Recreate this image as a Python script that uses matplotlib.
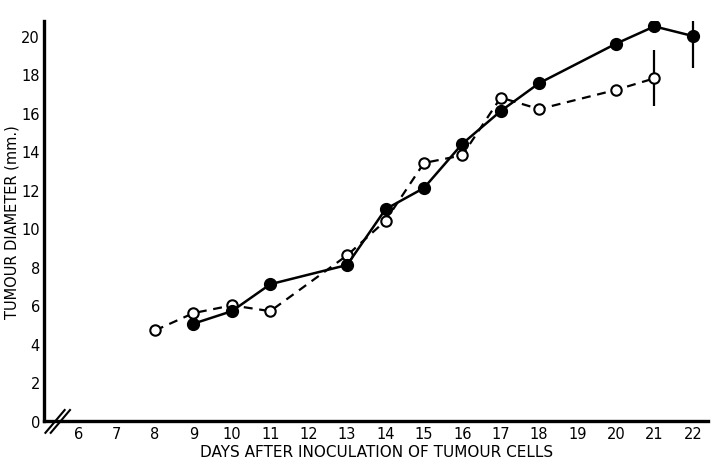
import matplotlib
matplotlib.use("Agg")
import matplotlib.pyplot as plt

plt.rcParams['font.family'] = ['DejaVu Sans']

# filled circles (solid line)
days_a = [9, 10, 11, 13, 14, 15, 16, 17, 18, 20, 21, 22]
diam_a = [5.05, 5.7, 7.1, 8.1, 11.0, 12.1, 14.4, 16.1, 17.55, 19.6, 20.5, 20.0]
err_day_a, err_a = 22, 1.65

# open circles (dashed line)
days_b = [8, 9, 10, 11, 13, 14, 15, 16, 17, 18, 20, 21]
diam_b = [4.7, 5.6, 6.0, 5.7, 8.6, 10.4, 13.4, 13.8, 16.8, 16.2, 17.2, 17.8]
err_day_b, err_b = 21, 1.45

xticks = list(range(6, 23))
yticks = list(range(0, 21, 2))

fig = plt.figure(figsize=(7.11, 4.60), dpi=100)
ax = fig.add_axes([0.062, 0.083, 0.934, 0.87])

ax.plot(days_b, diam_b, color='black', lw=1.6, ls=(0, (4, 3)),
        marker='o', ms=7.5, mfc='white', mec='black', mew=1.5, zorder=3)
ax.plot(days_a, diam_a, color='black', lw=1.8, ls='-',
        marker='o', ms=8.5, mfc='black', mec='black', zorder=4)

ax.errorbar([err_day_a], [diam_a[days_a.index(err_day_a)]], yerr=[err_a],
            fmt='none', ecolor='black', elinewidth=1.6, capsize=0, zorder=2)
ax.errorbar([err_day_b], [diam_b[days_b.index(err_day_b)]], yerr=[err_b],
            fmt='none', ecolor='black', elinewidth=1.6, capsize=0, zorder=2)

ax.set_xlim(5.11, 22.4)
ax.set_ylim(0, 20.8)
ax.set_xticks(xticks)
ax.set_yticks(yticks)
ax.tick_params(length=0, labelsize=10.5, pad=4)
ax.tick_params(axis='y', pad=3)

for s in ['top', 'right']:
    ax.spines[s].set_visible(False)
for s in ['left', 'bottom']:
    ax.spines[s].set_linewidth(2.4)

# axis break marks
for dx in (0.0, 0.008):
    ax.plot([0.002 + dx, 0.031 + dx], [-0.03, 0.027], transform=ax.transAxes,
            color='black', lw=1.5, clip_on=False)

ax.set_xlabel('DAYS AFTER INOCULATION OF TUMOUR CELLS', fontsize=11, labelpad=2)
ax.set_ylabel('TUMOUR DIAMETER (mm.)', fontsize=10.5, labelpad=1)

fig.savefig('out.png', dpi=100)
